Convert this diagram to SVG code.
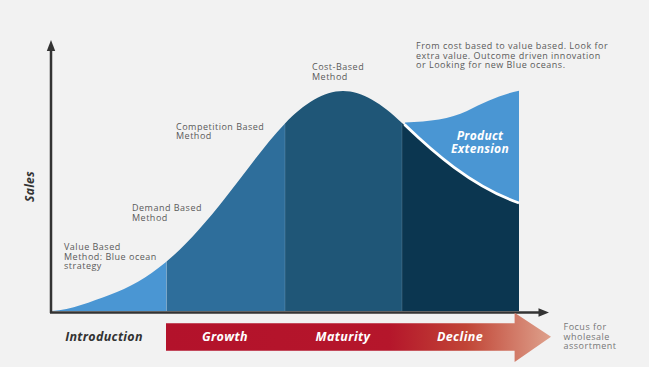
<svg xmlns="http://www.w3.org/2000/svg" width="649" height="367" viewBox="0 0 649 367">
<style>
.lbl{font-family:"Open Sans","Liberation Sans",sans-serif;font-size:9px;fill:#5a5a5a;letter-spacing:0.5px}
.bi{font-family:"Open Sans","Liberation Sans",sans-serif;font-weight:700;font-style:italic}
.stage{font-size:12.5px;fill:#ffffff;letter-spacing:0.4px}
.axis{stroke:#333;stroke-width:2.5;fill:none}
.sep{stroke:#ffffff;stroke-opacity:0.18;stroke-width:0.8}
.focus{fill:#777}
</style>
<defs>
<linearGradient id="redg" gradientUnits="userSpaceOnUse" x1="166" y1="0" x2="551" y2="0">
<stop offset="0" stop-color="#B3122B"/>
<stop offset="0.58" stop-color="#B5162B"/>
<stop offset="0.78" stop-color="#C14536"/>
<stop offset="1" stop-color="#DEA18C"/>
</linearGradient>
<path id="bell" d="M52,311 C71.3,310 90.7,301.8 110,294.8 C128.7,288 147.3,277.6 166,262 C185.7,245.6 205.3,223.4 225,198.3 C245,172.7 265,144.6 285,123.5 C304.3,103.5 323.7,91 343,91 C362.3,91 381.7,103.5 402,123 L402,311 Z"/>
<clipPath id="c1"><rect x="40" y="40" width="126.5" height="280"/></clipPath>
<clipPath id="c2"><rect x="166.5" y="40" width="118.5" height="280"/></clipPath>
<clipPath id="c3"><rect x="285" y="40" width="117.5" height="280"/></clipPath>
</defs>
<rect width="649" height="367" fill="#F2F2F2"/>

<g id="introduction-area"><use href="#bell" fill="#4A96D3" clip-path="url(#c1)"/></g>
<g id="growth-area"><use href="#bell" fill="#2E6E9B" clip-path="url(#c2)"/></g>
<g id="maturity-area"><use href="#bell" fill="#1F5677" clip-path="url(#c3)"/></g>
<g id="product-extension">
<path d="M405,122.5 C430,121.5 450,119 467,111 C485,102 500,95 519,90.7 L519,215 L405,215 Z" fill="#4A96D3"/>
<text class="bi" x="480" y="140" font-size="12" fill="#fff" text-anchor="middle" letter-spacing="0.3">Product</text>
<text class="bi" x="480" y="152.5" font-size="12" fill="#fff" text-anchor="middle" letter-spacing="0.3">Extension</text>
</g>
<g id="decline-area">
<path d="M402,123 C430,150 470,185 519,203 L519,311 L402,311 Z" fill="#0B3650"/>
<path d="M404.5,124.5 C432,151 471,186 519,203" fill="none" stroke="#ffffff" stroke-width="2.8"/>
</g>
<g id="separators">
<line class="sep" x1="166.5" y1="262" x2="166.5" y2="311"/>
<line class="sep" x1="285" y1="124" x2="285" y2="311"/>
<line class="sep" x1="402" y1="124" x2="402" y2="311"/>
</g>

<g id="connectors">
<line class="axis" x1="51" y1="313" x2="51" y2="48"/>
<polygon points="51,40 46.8,51 55.2,51" fill="#333"/>
<line class="axis" x1="50" y1="312.5" x2="541" y2="312.5"/>
<polygon points="549,312.5 538.5,308.3 538.5,316.7" fill="#333"/>
</g>

<g id="sales-label"><text class="bi" font-size="12" fill="#333" text-anchor="middle" letter-spacing="0.3" transform="translate(34,186.5) rotate(-90)">Sales</text></g>

<g id="value-based">
<text class="lbl" x="64" y="250">Value Based</text>
<text class="lbl" x="64" y="259.7">Method: Blue ocean</text>
<text class="lbl" x="64" y="269.4">strategy</text>
</g>
<g id="demand-based">
<text class="lbl" x="132" y="211">Demand Based</text>
<text class="lbl" x="132" y="220.5">Method</text>
</g>
<g id="competition-based">
<text class="lbl" x="176" y="129.5">Competition Based</text>
<text class="lbl" x="176" y="139">Method</text>
</g>
<g id="cost-based">
<text class="lbl" x="312" y="70">Cost-Based</text>
<text class="lbl" x="312" y="79.5">Method</text>
</g>
<g id="note">
<text class="lbl" x="416" y="49">From cost based to value based. Look for</text>
<text class="lbl" x="416" y="58.7">extra value. Outcome driven innovation</text>
<text class="lbl" x="416" y="68.4">or Looking for new Blue oceans.</text>
</g>

<g id="stage-arrow">
<path d="M166,323.3 L514.6,323.3 L514.6,312.7 L551,336.7 L514.6,362 L514.6,350.7 L166,350.7 Z" fill="url(#redg)"/>
<text class="bi stage" x="225" y="341" text-anchor="middle">Growth</text>
<text class="bi stage" x="343" y="341" text-anchor="middle">Maturity</text>
<text class="bi stage" x="460" y="341" text-anchor="middle">Decline</text>
</g>
<g id="introduction-label"><text class="bi" x="104" y="341" font-size="12.5" fill="#333" text-anchor="middle" letter-spacing="0.3">Introduction</text></g>
<g id="focus-label">
<text class="lbl focus" x="563.5" y="330">Focus for</text>
<text class="lbl focus" x="563.5" y="339.5">wholesale</text>
<text class="lbl focus" x="563.5" y="349">assortment</text>
</g>
</svg>
